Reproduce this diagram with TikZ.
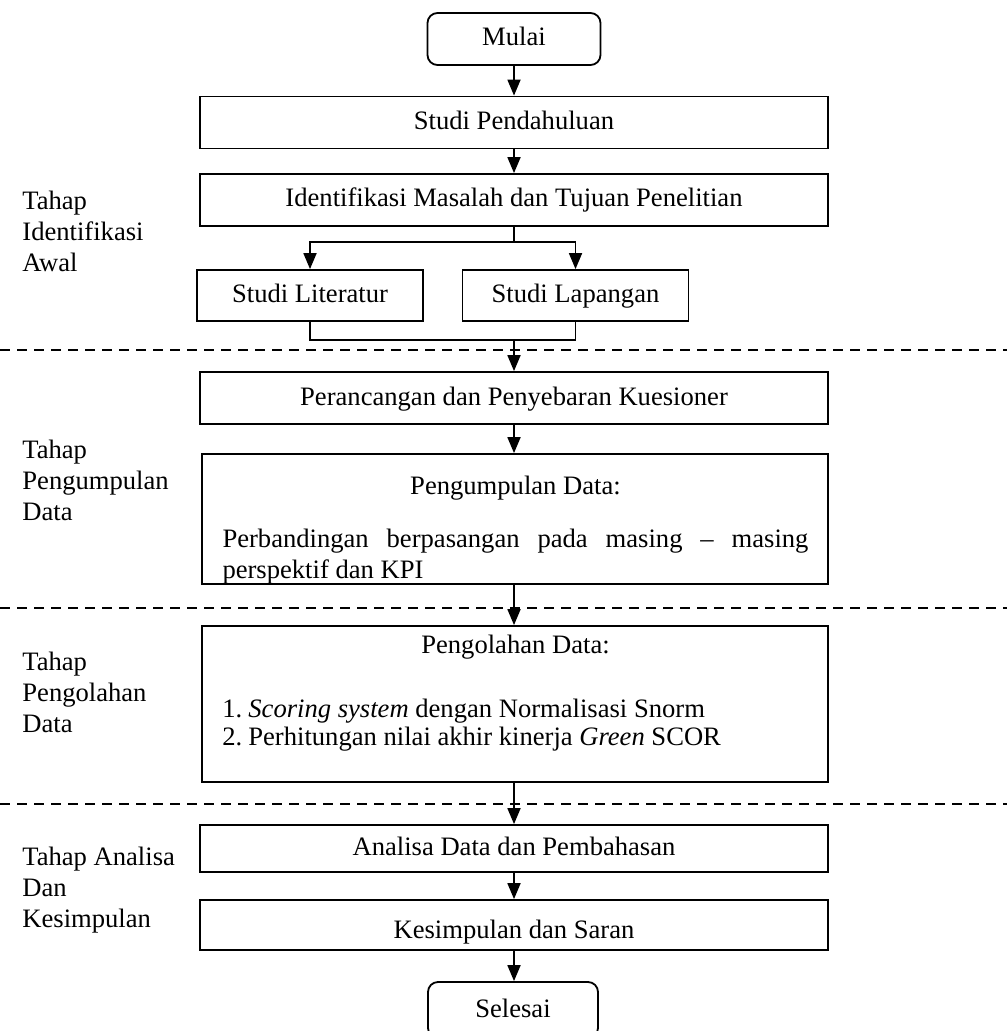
\documentclass[tikz,border=0pt]{standalone}
\usepackage{fontspec}
\setmainfont{Liberation Serif}
\usetikzlibrary{arrows.meta}

\tikzset{
  kotak/.style={draw, line width=0.9pt, inner sep=0pt, minimum width=314pt, minimum height=26pt,
    text height=0.7em, text depth=0pt},
  kecil/.style={kotak, minimum width=113pt, minimum height=25.5pt},
  ujung/.style={kotak, rounded corners=5pt, minimum width=86.5pt},
  panah/.style={-{Triangle[length=8pt,width=6.5pt]}, line width=0.9pt},
  garis/.style={line width=0.9pt},
  batas/.style={dash pattern=on 5pt off 3.5pt, line width=0.6pt},
  tahap/.style={anchor=west, align=left, inner sep=0pt}
}

\begin{document}
\begin{tikzpicture}[x=0.5pt, y=-0.5pt, font=\fontsize{13.3pt}{15.5pt}\selectfont]
\useasboundingbox (0,0) rectangle (1007,1031);
\clip (0,0) rectangle (1007,1031);

% batas tahap
\draw[batas] (0,350) -- (1007,350);
\draw[batas] (0,608) -- (1007,608);
\draw[batas] (0,804) -- (1007,804);

% label tahap
\node[tahap] (tahapAwal) at (22,231) {Tahap\\Identifikasi\\Awal};
\node[tahap] (tahapKumpul) at (22,480) {Tahap\\Pengumpulan\\Data};
\node[tahap] (tahapOlah) at (22,692) {Tahap\\Pengolahan\\Data};
\node[tahap] (tahapAnalisa) at (22,890) {Tahap Analisa\\Dan\\Kesimpulan};

% alur
\node[ujung] (mulai) at (514,39) {Mulai};
\node[kotak] (pendahuluan) at (514,122.5) {Studi Pendahuluan};
\node[kotak] (identifikasi) at (514,200) {Identifikasi Masalah dan Tujuan Penelitian};
\node[kecil] (literatur) at (310,295.5) {Studi Literatur};
\node[kecil] (lapangan) at (575.5,295.5) {Studi Lapangan};
\node[kotak] (perancangan) at (514,398) {Perancangan dan Penyebaran Kuesioner};
\node[kotak, minimum width=313pt, minimum height=65pt] (kumpul) at (515,519) {};
\node (kumpulJudul) at (515.5,488) {Pengumpulan Data:};
\node[text width=293pt, align=justify, inner sep=0pt, anchor=north] (kumpulIsi) at (515.5,529)
  {Perbandingan berpasangan pada masing -- masing\linebreak perspektif dan KPI};
\node[kotak, minimum width=313pt, minimum height=78pt] (olah) at (515,704) {};
\node (olahJudul) at (515.5,647) {Pengolahan Data:};
\node[tahap, font=\fontsize{13.3pt}{14pt}\selectfont] (olahIsi) at (222,725)
  {\makebox[13pt][l]{1.}\textit{Scoring system} dengan Normalisasi Snorm\\
   \makebox[13pt][l]{2.}Perhitungan nilai akhir kinerja \textit{Green} SCOR};
\node[kotak, minimum height=23.5pt] (analisa) at (514,848.5) {Analisa Data dan Pembahasan};
\node[kotak, minimum height=25pt] (kesimpulan) at (514,925) {\raisebox{-3pt}{Kesimpulan dan Saran}};
\node[ujung, minimum width=85pt, minimum height=28pt] (selesai) at (513,1010) {Selesai};

% penghubung
\coordinate (cabang) at (514,242);
\coordinate (gabung) at (514,340);
\draw[panah] (mulai.south) -- (mulai.south |- pendahuluan.north);
\draw[panah] (pendahuluan) -- (identifikasi);
\draw[garis] (identifikasi.south) -- (cabang);
\draw[panah] (cabang) -| (literatur.north);
\draw[panah] (cabang) -| (lapangan.north);
\draw[garis] (literatur.south) |- (gabung) -| (lapangan.south);
\draw[panah] (gabung) -- (perancangan.north);
\draw[panah] (perancangan.south) -- (perancangan.south |- kumpul.north);
\draw[panah] (perancangan.south |- kumpul.south) -- (perancangan.south |- olah.north);
\draw[panah] (analisa.north |- olah.south) -- (analisa.north);
\draw[panah] (analisa) -- (kesimpulan);
\draw[panah] (kesimpulan.south) -- (kesimpulan.south |- selesai.north);
\end{tikzpicture}
\end{document}
